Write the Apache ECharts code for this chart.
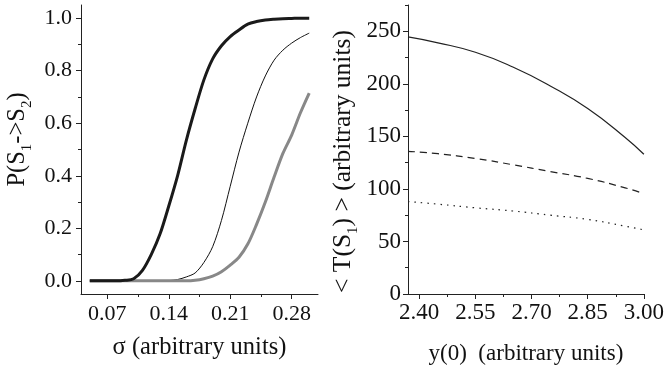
<!DOCTYPE html>
<html>
<head>
<meta charset="utf-8">
<script src="https://cdn.jsdelivr.net/npm/echarts@6/dist/echarts.min.js"></script>
<style>
  html, body { margin: 0; padding: 0; background: #fff; }
  #chart { width: 667px; height: 373px; }
</style>
</head>
<body>
<div id="chart"></div>
<script>
// left panel: P(S1->S2) vs sigma
var sigma = [0.05, 0.06, 0.07, 0.08, 0.09, 0.10, 0.11, 0.12, 0.13, 0.14, 0.15, 0.16, 0.17,
  0.18, 0.19, 0.20, 0.21, 0.22, 0.23, 0.24, 0.25, 0.26, 0.27, 0.28, 0.29, 0.30];
var pThick = [0, 0, 0, 0, 0.002, 0.008, 0.04, 0.10, 0.178, 0.285, 0.40, 0.535, 0.655,
  0.765, 0.845, 0.895, 0.93, 0.955, 0.977, 0.987, 0.993, 0.996, 0.998, 0.999, 1.0, 1.0];
var pThin = [0, 0, 0, 0, 0, 0, 0, 0, 0, 0.001, 0.005, 0.015, 0.03,
  0.07, 0.13, 0.23, 0.36, 0.49, 0.60, 0.70, 0.78, 0.84, 0.878, 0.905, 0.926, 0.943];
var pGray = [0, 0, 0, 0, 0, 0, 0, 0, 0, 0, 0, 0, 0.002,
  0.008, 0.018, 0.035, 0.06, 0.09, 0.14, 0.215, 0.30, 0.395, 0.485, 0.555, 0.64, 0.715];
var sigmaTicks = [0.07, 0.14, 0.21, 0.28];
var sigmaMinor = [0.105, 0.175, 0.245];
var pTicks = [0, 0.2, 0.4, 0.6, 0.8, 1.0];
var pMinor = [0.1, 0.3, 0.5, 0.7, 0.9];

// right panel: <T(S1)> vs y(0)
var y0 = [2.37, 2.45, 2.55, 2.65, 2.75, 2.85, 2.95, 3.00];
var tSolid = [244.6, 239, 230, 216, 198, 176.5, 149, 133];
var tDashed = [135.8, 133.5, 129, 123, 116.5, 110, 101, 95.5];
var tDotted = [88, 85.5, 82, 79, 75, 71, 64.5, 61];
var y0Ticks = [2.40, 2.55, 2.70, 2.85, 3.00];
var y0Minor = [2.475, 2.625, 2.775, 2.925];
var tTicks = [0, 50, 100, 150, 200, 250];
var tMinor = [25, 75, 125, 175, 225, 275];

function pairs(xs, ys) {
  return xs.map(function (x, i) { return [x, ys[i]]; });
}

var FONT = "Liberation Serif";
var AXIS = "#222";

function mainAxis(min, max, ticks, fmt, gridIndex, pos, size, margin, extra) {
  var a = {
    type: "value",
    gridIndex: gridIndex,
    position: pos,
    min: min,
    max: max,
    splitLine: { show: false },
    axisLine: { show: true, onZero: false, lineStyle: { color: AXIS, width: 1 } },
    axisTick: { show: true, inside: false, length: 5, customValues: ticks, lineStyle: { color: AXIS } },
    axisLabel: {
      customValues: ticks,
      formatter: fmt,
      fontFamily: FONT,
      fontSize: size,
      color: "#111",
      margin: margin,
    },
  };
  for (var k in extra) a[k] = extra[k];
  return a;
}

function minorAxis(min, max, ticks, gridIndex, pos) {
  return {
    type: "value",
    gridIndex: gridIndex,
    position: pos,
    offset: 0,
    min: min,
    max: max,
    splitLine: { show: false },
    axisLine: { show: false, onZero: false },
    axisTick: { show: true, length: 3, customValues: ticks, lineStyle: { color: AXIS } },
    axisLabel: { show: false },
  };
}

function subStyle(size) {
  return {
    main: { fontFamily: FONT, fontSize: size, color: "#111", lineHeight: size + 1, verticalAlign: "top" },
    sub: { fontFamily: FONT, fontSize: 15, color: "#111", lineHeight: 15, padding: [size - 10, 0, 0, 0], verticalAlign: "top" },
  };
}

var chart = echarts.init(document.getElementById("chart"), null, { renderer: "canvas" });

var option = {
  animation: false,
  backgroundColor: "#fff",
  grid: [
    { left: 81, top: 5, width: 237, height: 289 },
    { left: 408, top: 5, width: 237, height: 289 },
  ],
  xAxis: [
    mainAxis(0.04, 0.31, sigmaTicks, function (v) { return v.toFixed(2); }, 0, "bottom", 22, 9, {
      name: "σ (arbitrary units)",
      nameLocation: "middle",
      nameGap: 41,
      nameTextStyle: { fontFamily: FONT, fontSize: 24.5, color: "#111" },
    }),
    minorAxis(0.04, 0.31, sigmaMinor, 0, "bottom"),
    mainAxis(2.37, 3.0, y0Ticks, function (v) { return v.toFixed(2); }, 1, "bottom", 23, 7, {
      name: "y(0)  (arbitrary units)",
      nameLocation: "middle",
      nameGap: 48,
      nameTextStyle: { fontFamily: FONT, fontSize: 23, color: "#111" },
    }),
    minorAxis(2.37, 3.0, y0Minor, 1, "bottom"),
  ],
  yAxis: [
    mainAxis(-0.05, 1.05, pTicks, function (v) { return v.toFixed(1); }, 0, "left", 22, 9, {
      name: "{main|P(S}{sub|1}{main|->S}{sub|2}{main|)}",
      nameLocation: "middle",
      nameGap: 50,
      nameTextStyle: { rich: subStyle(24.5), padding: [0, 0, 0, 20] },
    }),
    minorAxis(-0.05, 1.05, pMinor, 0, "left"),
    mainAxis(0, 275, tTicks, function (v) { return String(v); }, 1, "left", 23, 7, {
      name: "{main|< T(S}{sub|1}{main|) > (arbitrary units)}",
      nameLocation: "middle",
      nameGap: 51,
      nameTextStyle: { rich: subStyle(25.5), padding: [0, 24, 0, 0] },
    }),
    minorAxis(0, 275, tMinor, 1, "left"),
  ],
  series: [
    {
      type: "line", xAxisIndex: 0, yAxisIndex: 0, data: pairs(sigma, pThin),
      showSymbol: false, smooth: 0.3, lineStyle: { color: "#111", width: 1 },
    },
    {
      type: "line", xAxisIndex: 0, yAxisIndex: 0, data: pairs(sigma, pGray),
      showSymbol: false, smooth: 0.3, lineStyle: { color: "#888", width: 3 },
    },
    {
      type: "line", xAxisIndex: 0, yAxisIndex: 0, data: pairs(sigma, pThick),
      showSymbol: false, smooth: 0.3, lineStyle: { color: "#1a1a1a", width: 3 },
    },
    {
      type: "line", xAxisIndex: 2, yAxisIndex: 2, data: pairs(y0, tSolid),
      showSymbol: false, smooth: true, lineStyle: { color: "#222", width: 1.2 },
    },
    {
      type: "line", xAxisIndex: 2, yAxisIndex: 2, data: pairs(y0, tDashed),
      showSymbol: false, smooth: true, lineStyle: { color: "#222", width: 1.2, type: [7, 5] },
    },
    {
      type: "line", xAxisIndex: 2, yAxisIndex: 2, data: pairs(y0, tDotted),
      showSymbol: false, smooth: true, lineStyle: { color: "#222", width: 1.2, type: [1.5, 5] },
    },
  ],
};

chart.setOption(option);
window.addEventListener("resize", function () {
  chart.resize();
});
</script>
</body>
</html>
